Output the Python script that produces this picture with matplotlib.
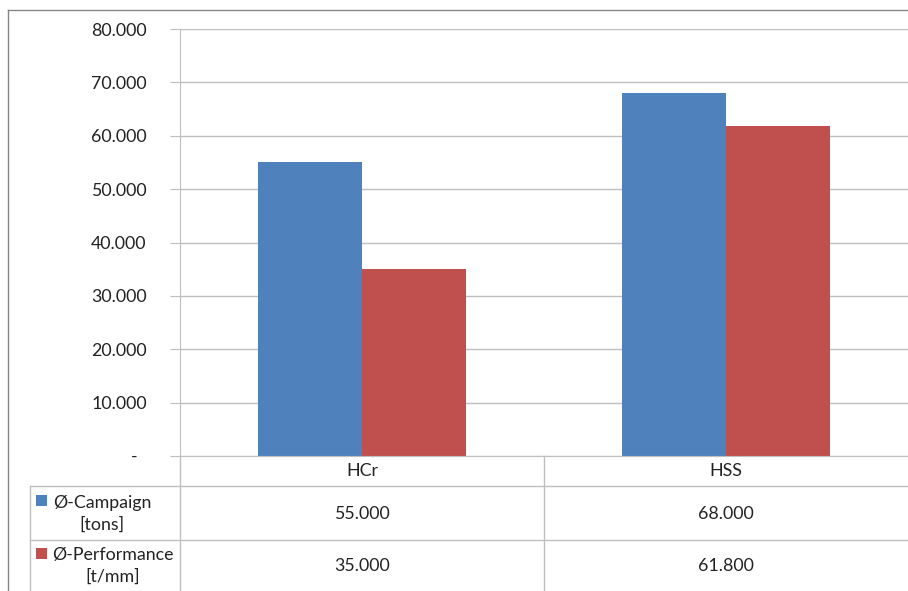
import numpy as np
import matplotlib.pyplot as plt
from matplotlib.lines import Line2D
from matplotlib.patches import Rectangle
from matplotlib.transforms import blended_transform_factory

plt.rcParams['font.family'] = ['Lato', 'DejaVu Sans']

categories = ['HCr', 'HSS']
campaign = [55.0, 68.0]
performance = [35.0, 61.8]
series_labels = ['Ø-Campaign\n[tons]', 'Ø-Performance\n[t/mm]']
series_colors = ['#4F81BD', '#C0504D']
yticks = [0, 10, 20, 30, 40, 50, 60, 70, 80]

W, H = 908, 591
fig = plt.figure(figsize=(W / 100, H / 100), dpi=100)


def fx(px):
    return px / W


def fy(py):
    return 1 - py / H


grid_c = '#bfbfbf'
txt_c = '#222222'
fs = 12.8
left, right, top, bottom = 180, 908, 29, 456
ax = fig.add_axes([fx(left), fy(bottom), (right - left) / W, (bottom - top) / H])

x = np.arange(len(categories))
w = 0.285
ax.bar(x - w / 2, campaign, w, color=series_colors[0], zorder=2)
ax.bar(x + w / 2, performance, w, color=series_colors[1], zorder=2)

ax.set_xlim(-0.5, len(categories) - 0.5)
ax.set_ylim(0, 80)
ax.set_yticks(yticks)
ax.set_yticklabels(['-  ' if v == 0 else f'{v:.3f}' for v in yticks])
ax.yaxis.grid(True, color=grid_c, lw=1)
ax.set_axisbelow(True)
ax.tick_params(axis='y', length=7, color=grid_c, pad=17, labelsize=fs, labelcolor=txt_c)
ax.set_xticks([])
for s in ['top', 'right']:
    ax.spines[s].set_visible(False)
ax.spines['left'].set_color(grid_c)
ax.spines['bottom'].set_color(grid_c)


def hline(x0, x1, y, c=grid_c):
    fig.add_artist(Line2D([fx(x0), fx(x1)], [fy(y), fy(y)], color=c, lw=1))


def vline(xp, y0, y1, c=grid_c):
    fig.add_artist(Line2D([fx(xp), fx(xp)], [fy(y0), fy(y1)], color=c, lw=1))


# data table below the chart
for y in [486, 540]:
    hline(30, right, y)
vline(30, 486, H)
vline(left, bottom, H)
mid = left + (right - left) / 2
vline(mid, bottom, H)

trans = blended_transform_factory(ax.transData, fig.transFigure)
for i, cat in enumerate(categories):
    ax.text(i, fy(471), cat, transform=trans, ha='center', va='center', fontsize=fs, color=txt_c)

row_centers = [514, 566]
marker_tops = [495, 548]
label_centers = [102, 113]
for r, (vals, lab, col) in enumerate(zip([campaign, performance], series_labels, series_colors)):
    yc = row_centers[r]
    fig.add_artist(Rectangle((fx(36), fy(marker_tops[r] + 11)), 11 / W, 11 / H,
                             transform=fig.transFigure, facecolor=col, edgecolor='none'))
    fig.text(fx(label_centers[r]), fy(yc), lab, ha='center', va='center', fontsize=fs,
             color=txt_c, linespacing=1.45)
    for i, v in enumerate(vals):
        ax.text(i, fy(yc), f'{v:.3f}', transform=trans, ha='center', va='center',
                fontsize=fs, color=txt_c)

# outer chart frame
hline(8, W, 10, c='#868686')
vline(8, 10, H, c='#868686')

fig.savefig('out.png', dpi=100)
